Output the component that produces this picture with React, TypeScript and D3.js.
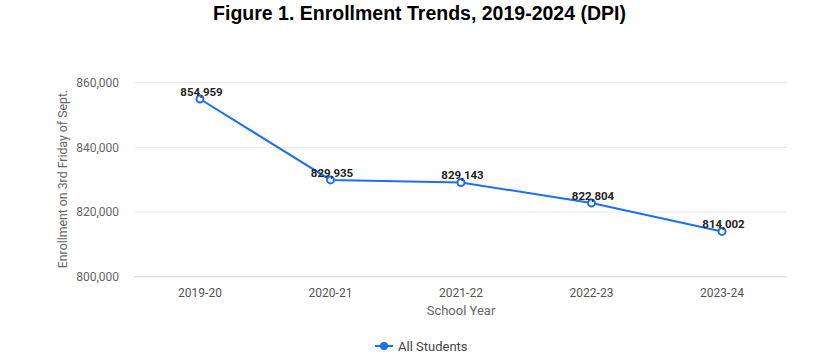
import React from "react";
import * as d3 from "d3";

const years = ["2019-20", "2020-21", "2021-22", "2022-23", "2023-24"];
const enrollment = [854959, 829935, 829143, 822804, 814002];
const yTicks = [800000, 820000, 840000, 860000];
const title = "Figure 1. Enrollment Trends, 2019-2024 (DPI)";
const yTitle = "Enrollment on 3rd Friday of Sept.";
const xTitle = "School Year";
const seriesName = "All Students";

const W = 837;
const H = 357;
const BLUE = "#1a6ff2";

export default function App() {
  const x = d3.scaleBand<string>().domain(years).range([134.75, 787.25]);
  const y = d3.scaleLinear().domain([800000, 860000]).range([276.7, 82.7]);
  const fmt = d3.format(",");
  const cx = (d: string) => (x(d) ?? 0) + x.bandwidth() / 2;
  const line = d3
    .line<number>()
    .x((_, i) => cx(years[i]))
    .y((v) => y(v));
  const font = "Roboto, 'Noto Sans', sans-serif";
  return (
    <svg
      width={W}
      height={H}
      style={{ position: "absolute", left: 0, top: 0, background: "#fff" }}
    >
      <text
        x={419.5}
        y={19.5}
        textAnchor="middle"
        fontFamily="'Liberation Sans', Arial, sans-serif"
        fontWeight="bold"
        fontSize={19.5}
        fill="#000"
      >
        {title}
      </text>
      {yTicks.map((t) => (
        <g key={t}>
          <line
            x1={134.75}
            x2={787.25}
            y1={y(t)}
            y2={y(t)}
            stroke={t === 800000 ? "#d6d6d6" : "#e8e8e8"}
            strokeWidth={1}
          />
          <text
            x={119}
            y={y(t)}
            dy="0.35em"
            textAnchor="end"
            fontFamily={font}
            fontSize={12}
            fill="#666"
          >
            {fmt(t)}
          </text>
        </g>
      ))}
      <text
        transform={`translate(67,179) rotate(-90)`}
        textAnchor="middle"
        fontFamily={font}
        fontSize={12.3}
        fill="#666"
      >
        {yTitle}
      </text>
      {years.map((yr) => (
        <text
          key={yr}
          x={cx(yr)}
          y={293}
          dy="0.35em"
          textAnchor="middle"
          fontFamily={font}
          fontSize={12}
          fill="#555"
        >
          {yr}
        </text>
      ))}
      <text
        x={461}
        y={310}
        dy="0.35em"
        textAnchor="middle"
        fontFamily={font}
        fontSize={13}
        fill="#666"
      >
        {xTitle}
      </text>
      <path d={line(enrollment) ?? ""} fill="none" stroke={BLUE} strokeWidth={2} />
      {enrollment.map((v, i) => (
        <circle
          key={i}
          cx={cx(years[i])}
          cy={y(v)}
          r={3.5}
          fill="#fff"
          stroke={BLUE}
          strokeWidth={2}
        />
      ))}
      {enrollment.map((v, i) => (
        <text
          key={"l" + i}
          x={cx(years[i]) + 1.5}
          y={y(v) - 3}
          textAnchor="middle"
          fontFamily={font}
          fontWeight="bold"
          fontSize={11.5}
          fill="#222"
        >
          {fmt(v)}
        </text>
      ))}
      <line x1={375} x2={393} y1={346} y2={346} stroke={BLUE} strokeWidth={2} />
      <circle cx={384} cy={346} r={4} fill={BLUE} />
      <text
        x={398}
        y={346}
        dy="0.35em"
        fontFamily={font}
        fontSize={13}
        fill="#444"
      >
        {seriesName}
      </text>
    </svg>
  );
}
